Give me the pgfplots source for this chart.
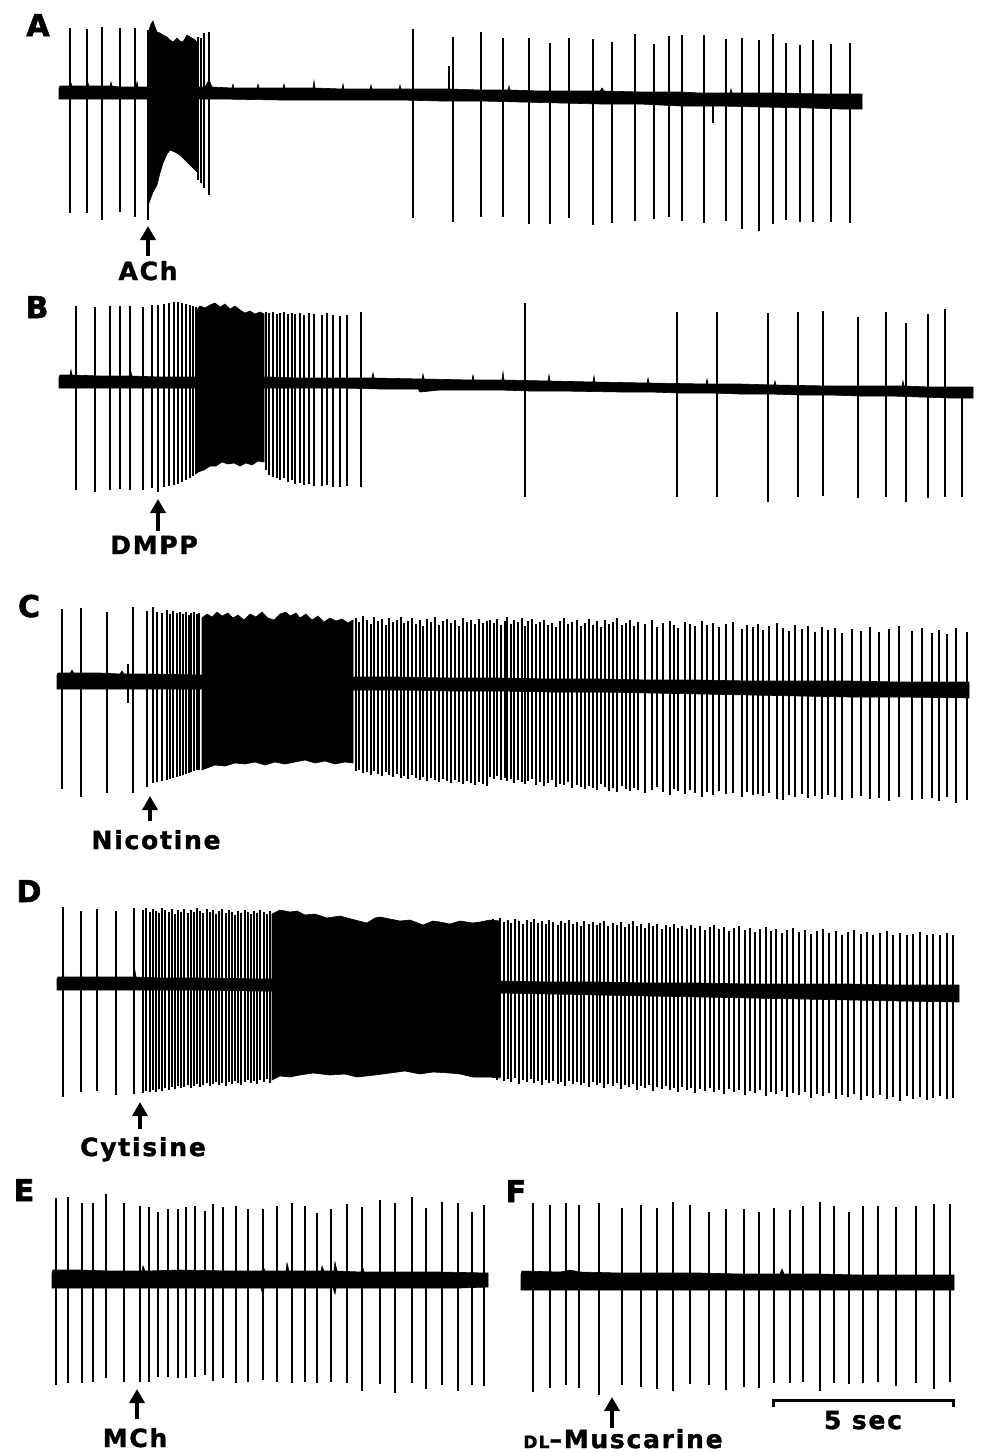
\documentclass[border=0pt]{standalone}
\usepackage{pgfplots}
\usepackage{pgfplotstable}
\pgfplotsset{compat=1.18}
\usepackage{fontspec}
\setmainfont{DejaVu Sans}
\newfontfamily\lab[LetterSpace=7, BoldFeatures={FakeBold=1.4}]{DejaVu Sans}
\newfontfamily\pan[BoldFeatures={FakeBold=2}]{DejaVu Sans}
\usetikzlibrary{arrows.meta}
\newcommand\panel{\pan\fontsize{30}{30}\selectfont\bfseries}
\newcommand\lbl{\lab\fontsize{25}{25}\selectfont\bfseries}
\tikzset{arr/.style={line width=4.5pt, -{Triangle[width=15pt,length=14pt]}}}

\pgfplotstableread{
x t b
70 28 213
87 29 213
102 27 220
120 28 212
135 28 217
148 30 220
198 37 180
201 38 183
204 33 188
209 32 195
413 29 218
449 66 95
453 37 222
481 32 217
503 38 217
529 38 224
550 43 224
569 38 218
593 39 225
612 42 223
635 34 221
654 44 219
669 36 217
682 35 221
704 35 223
713 100 123
726 39 221
742 38 229
759 40 231
773 34 224
786 43 220
800 45 222
813 40 222
831 44 222
850 43 223
}\spA

\pgfplotstableread{
x t b
76 306 490
95 307 492
110 306 490
120 306 489
130 306 490
143 307 490
152 305 488
158 305 492
164 304 487
169 303 486
174 302 485
178 302 484
182 303 482
186 304 480
190 305 478
193 306 476
196 307 474
266 312 470
269 313 475
273 312 477
277 314 478
280 313 480
284 312 478
288 314 482
292 313 480
295 314 484
300 313 483
304 315 485
309 313 484
314 314 486
322 315 486
327 313 485
333 315 487
340 316 487
347 315 486
361 312 487
525 303 497
677 312 497
717 312 497
768 313 502
798 312 497
823 311 496
858 317 498
886 312 497
906 323 502
928 314 498
945 309 497
962 395 497
}\spB

\pgfplotstableread{
x t b
62 609 789
81 608 797
107 612 793
128 664 703
133 607 793
147 611 787
153 607 783
157 612 782
162 613 781
167 610 780
170 614 779
173 611 778
177 613 777
180 612 776
183 614 775
186 612 774
189 615 773
191 613 772
194 612 771
197 614 770
199 613 770
356 618 771
359 622 770
363 616 773
367 620 772
371 624 775
374 617 771
378 621 774
382 619 776
386 625 772
389 618 775
393 622 777
397 620 774
401 617 778
404 623 776
408 621 779
412 618 775
416 624 778
420 620 780
423 626 777
427 619 781
431 622 778
435 617 780
439 625 782
443 621 779
447 619 781
451 623 783
455 620 780
459 626 782
463 618 784
467 622 781
471 620 783
475 624 785
479 619 782
483 623 784
487 621 786
490 620 777
494 623 779
497 619 776
501 625 780
505 621 778
507 617 781
511 624 779
514 620 783
518 622 780
522 618 782
525 626 784
528 621 781
532 619 779
536 624 785
540 622 782
544 620 786
548 625 783
552 623 780
556 627 787
560 621 784
564 618 785
568 624 782
572 622 788
577 620 785
581 626 787
585 623 789
589 619 786
593 625 788
597 621 790
601 627 784
605 620 787
609 624 791
613 622 788
617 618 792
622 625 786
626 623 789
630 620 791
634 626 788
638 622 790
645 624 793
652 620 790
657 627 787
663 623 792
670 621 795
674 625 789
678 628 791
685 622 794
690 624 790
695 626 793
702 621 797
707 625 792
713 623 795
719 627 791
726 624 794
733 622 793
742 629 797
747 625 792
753 627 795
758 624 794
763 630 796
769 626 793
777 623 799
783 628 800
789 631 795
795 625 797
802 629 794
808 626 798
815 632 796
822 627 799
828 630 795
835 628 797
842 633 800
852 629 798
861 631 796
870 627 799
879 632 798
889 629 801
899 626 797
912 631 800
922 628 799
932 633 798
939 630 801
947 634 797
956 628 803
967 632 800
}\spC

\pgfplotstableread{
x t b
63 907 1097
81 911 1092
97 909 1091
116 911 1095
134 908 1094
143 910 1093
146 908 1091
150 912 1092
153 909 1090
156 911 1092
159 913 1089
162 908 1091
165 910 1088
169 912 1090
172 909 1087
175 914 1089
178 910 1086
181 912 1088
184 909 1087
188 913 1085
191 910 1088
194 912 1086
197 908 1084
200 911 1087
203 913 1085
207 909 1083
210 912 1086
213 910 1084
216 914 1082
219 911 1085
222 909 1083
226 913 1086
229 910 1082
232 912 1084
235 915 1081
238 911 1083
241 913 1085
245 910 1082
248 912 1080
251 914 1083
254 911 1081
257 913 1084
260 910 1080
264 912 1082
267 914 1079
270 911 1083
493 919 1078
497 921 1080
500 918 1077
504 922 1081
508 920 1079
511 923 1082
515 919 1078
519 921 1084
523 924 1080
527 920 1082
531 922 1079
534 919 1083
538 923 1081
542 921 1085
546 924 1080
549 920 1083
553 922 1081
558 925 1084
561 921 1082
565 923 1086
569 920 1081
573 924 1084
577 922 1082
581 926 1085
584 921 1083
589 924 1087
593 922 1082
597 925 1085
600 923 1083
604 921 1088
608 926 1084
613 923 1086
617 925 1083
621 922 1089
625 927 1085
629 924 1087
633 921 1084
637 926 1090
641 924 1086
645 928 1088
649 923 1085
653 926 1091
657 924 1087
662 929 1089
666 925 1086
670 927 1090
674 924 1088
678 928 1092
682 926 1087
687 929 1090
691 925 1088
695 928 1093
700 926 1089
705 930 1091
710 927 1088
714 925 1092
719 929 1090
724 927 1094
729 931 1089
734 928 1092
739 926 1090
745 930 1095
750 928 1091
755 932 1093
760 929 1090
766 927 1096
771 931 1092
776 929 1094
782 933 1091
787 930 1097
793 928 1093
799 932 1095
805 930 1092
811 934 1098
817 931 1094
823 929 1096
829 933 1093
836 931 1099
842 935 1095
848 932 1097
854 930 1094
861 934 1100
867 932 1096
873 935 1098
880 933 1095
887 931 1099
893 935 1097
900 933 1101
907 935 1096
913 934 1099
920 932 1097
927 935 1100
933 934 1098
940 935 1096
947 933 1099
953 935 1098
}\spD

\pgfplotstableread{
x t b
56 1198 1385
68 1197 1383
82 1203 1383
93 1203 1382
106 1194 1378
124 1203 1382
140 1206 1382
149 1207 1382
158 1212 1377
168 1209 1377
178 1209 1378
186 1207 1378
195 1206 1377
205 1211 1375
213 1204 1381
223 1207 1378
236 1206 1383
248 1209 1382
263 1209 1380
277 1206 1382
292 1203 1383
305 1206 1382
317 1213 1383
331 1209 1382
347 1204 1383
362 1207 1391
380 1200 1384
395 1203 1393
412 1197 1383
426 1208 1389
442 1202 1385
458 1203 1391
472 1212 1385
484 1205 1386
}\spE

\pgfplotstableread{
x t b
533 1203 1392
550 1205 1388
566 1203 1385
579 1205 1388
599 1203 1395
622 1208 1385
641 1205 1387
657 1208 1389
673 1202 1391
690 1205 1384
709 1212 1385
726 1209 1390
744 1209 1387
759 1212 1388
774 1208 1383
790 1210 1383
803 1206 1382
820 1202 1391
834 1206 1383
849 1212 1384
863 1206 1383
878 1206 1382
896 1207 1386
916 1206 1383
934 1204 1389
950 1204 1382
}\spF

\begin{document}
\begin{tikzpicture}
\begin{axis}[
  width=981pt, height=1452pt, scale only axis,
  xmin=0, xmax=981, ymin=0, ymax=1452, y dir=reverse,
  hide axis, clip=false,
  spk/.style={black, line width=1.9pt, mark=none, quiver={u=0, v=\thisrow{b}-\thisrow{t}}},
  band/.style={fill=black, draw=black, line width=0.6pt, mark=none},
]
\path (axis cs:0,0) rectangle (axis cs:981,1452);
% ---------- A ----------
\addplot[band] coordinates {(59,88)(60,86)(70,86)(71,83)(72,86)(87,86)(88,83)(89,86)(102,86)(110,86)(111,82)(112,86)(120,87)(136,87)(137,82)(138,87)(148,87)(205,87)(209,80)(212,87)(232,88)(233,84)(234,88)(257,88)(258,84)(259,88)(283,88)(284,84)(285,88)(313,88)(314,81)(315,88)(342,89)(343,84)(344,89)(370,89)(371,85)(372,89)(399,89)(400,85)(401,89)(420,89)(450,89)(480,90)(508,90)(509,86)(510,90)(540,91)(560,91)(600,91)(602,88)(604,91)(640,92)(680,92)(700,93)(730,93)(731,89)(732,93)(780,93)(820,94)(862,94)
(862,109)(840,109)(810,108)(760,107)(720,106)(680,106)(640,104)(600,104)(560,103)(520,102)(480,101)(440,101)(400,100)(340,100)(280,100)(220,99)(160,99)(100,99)(59,99)} -- cycle;
\addplot[band] coordinates {(149,30)(151,24)(153,21)(155,27)(157,32)(160,33)(163,35)(167,37)(170,40)(173,42)(177,38)(180,41)(183,42)(187,35)(190,37)(192,38)(195,40)(197,42)
(197,172)(193,168)(187,162)(180,155)(175,152)(170,150)(167,154)(163,163)(160,173)(157,185)(153,192)(150,200)(149,203)} -- cycle;
\addplot[spk] table[x=x, y=t] {\spA};
% ---------- B ----------
\addplot[band] coordinates {(59,377)(60,375)(70,375)(71,370)(72,375)(100,376)(130,376)(131,372)(132,376)(160,377)(270,377)(300,378)(330,378)(372,378)(373,373)(374,378)(422,379)(423,374)(424,379)(472,380)(473,375)(474,380)(502,380)(503,372)(504,380)(548,381)(549,375)(550,381)(593,382)(594,376)(595,382)(647,383)(648,378)(649,383)(706,384)(707,379)(708,384)(740,384)(774,385)(775,381)(776,385)(830,386)(870,386)(902,386)(903,381)(904,386)(930,387)(973,387)
(973,398)(950,398)(920,397)(890,396)(860,396)(830,395)(800,395)(770,394)(740,394)(710,393)(680,393)(650,392)(620,392)(560,391)(530,391)(500,390)(470,390)(440,390)(420,392)(418,389)(380,389)(340,388)(300,388)(220,388)(140,388)(59,388)} -- cycle;
\addplot[band] coordinates {(196,311)(200,306)(205,308)(210,305)(215,303)(220,307)(225,304)(230,309)(235,306)(240,310)(245,313)(250,311)(255,314)(260,312)(264,314)
(264,462)(258,461)(252,465)(246,463)(240,466)(234,463)(228,464)(222,462)(216,466)(210,466)(204,470)(198,472)(196,474)} -- cycle;
\addplot[spk] table[x=x, y=t] {\spB};
% ---------- C ----------
\addplot[band] coordinates {(57,675)(58,673)(70,673)(72,670)(74,673)(100,673)(120,674)(122,671)(124,674)(150,674)(200,675)(250,675)(300,676)(350,677)(400,677)(450,678)(500,678)(550,679)(600,679)(650,680)(700,680)(750,681)(800,681)(850,681)(900,682)(969,682)
(969,698)(900,697)(850,697)(800,696)(750,695)(700,694)(650,693)(600,692)(550,692)(500,691)(450,691)(400,690)(350,690)(300,690)(250,689)(200,689)(150,689)(100,689)(57,689)} -- cycle;
\addplot[band] coordinates {(202,618)(207,614)(212,617)(217,612)(222,616)(228,613)(233,618)(238,615)(244,620)(250,614)(256,617)(262,612)(268,618)(274,620)(280,614)(286,612)(290,616)(296,613)(300,618)(306,614)(312,620)(318,616)(324,622)(330,618)(336,621)(342,619)(348,623)(353,620)
(353,763)(345,762)(335,764)(325,761)(315,763)(305,760)(295,762)(285,764)(275,762)(265,765)(255,762)(245,764)(235,763)(225,766)(215,765)(207,768)(202,770)} -- cycle;
\addplot[spk] table[x=x, y=t] {\spC};
% ---------- D ----------
\addplot[band] coordinates {(57,979)(58,977)(62,977)(63,970)(64,977)(80,977)(81,972)(82,977)(96,977)(97,972)(98,977)(115,977)(134,977)(135,971)(136,977)(160,978)(200,978)(270,979)(300,979)(350,980)(400,980)(450,981)(500,981)(550,982)(600,982)(650,983)(700,983)(750,984)(800,984)(850,984)(900,985)(959,985)
(959,1002)(900,1001)(850,1000)(800,999)(750,998)(700,997)(650,996)(600,995)(550,994)(500,993)(450,993)(400,992)(350,992)(300,991)(250,991)(200,990)(150,990)(100,990)(57,990)} -- cycle;
\addplot[band] coordinates {(272,914)(280,910)(290,912)(297,911)(305,915)(315,914)(327,918)(340,916)(355,920)(367,923)(375,918)(380,917)(390,919)(400,921)(410,920)(423,925)(433,921)(440,922)(450,924)(460,921)(473,923)(480,922)(490,920)(500,921)
(500,1078)(490,1077)(473,1077)(460,1074)(450,1073)(433,1072)(420,1074)(405,1071)(390,1073)(375,1075)(357,1077)(345,1074)(330,1075)(313,1073)(300,1075)(290,1077)(280,1076)(272,1080)} -- cycle;
\addplot[spk] table[x=x, y=t] {\spD};
% ---------- E ----------
\addplot[band] coordinates {(52,1273)(53,1270)(80,1270)(110,1271)(142,1271)(143,1266)(145,1271)(180,1270)(230,1271)(262,1271)(263,1266)(265,1271)(286,1271)(287,1263)(289,1271)(321,1271)(322,1266)(324,1271)(334,1271)(335,1262)(337,1271)(361,1272)(362,1264)(364,1272)(400,1272)(440,1272)(488,1273)
(488,1287)(460,1288)(420,1288)(380,1288)(336,1288)(335,1294)(333,1288)(264,1288)(263,1295)(261,1288)(200,1288)(150,1288)(100,1288)(52,1288)} -- cycle;
\addplot[spk] table[x=x, y=t] {\spE};
% ---------- F ----------
\addplot[band] coordinates {(521,1274)(522,1271)(560,1272)(570,1270)(580,1272)(620,1273)(660,1273)(700,1273)(740,1274)(780,1274)(782,1269)(784,1274)(820,1274)(860,1275)(900,1275)(954,1275)
(954,1290)(900,1290)(850,1290)(800,1290)(750,1290)(700,1290)(650,1290)(600,1290)(560,1290)(521,1290)} -- cycle;
\addplot[spk] table[x=x, y=t] {\spF};

% ---------- annotations ----------
\node[font=\panel, anchor=base, inner sep=0pt] at (axis cs:38,36) {A};
\node[font=\panel, anchor=base, inner sep=0pt] at (axis cs:37,318) {B};
\node[font=\panel, anchor=base, inner sep=0pt] at (axis cs:29,617) {C};
\node[font=\panel, anchor=base, inner sep=0pt] at (axis cs:29,902) {D};
\node[font=\panel, anchor=base, inner sep=0pt] at (axis cs:24,1201) {E};
\node[font=\panel, anchor=base, inner sep=0pt] at (axis cs:516,1202) {F};

\draw[arr] (axis cs:148,256) -- (axis cs:148,226);
\node[font=\lbl, anchor=base, inner sep=0pt] at (axis cs:148,280) {ACh};
\draw[arr] (axis cs:158,531) -- (axis cs:158,499);
\node[font=\lbl, anchor=base, inner sep=0pt] at (axis cs:154,554) {DMPP};
\draw[arr] (axis cs:150,821) -- (axis cs:150,796);
\node[font=\lbl, anchor=base, inner sep=0pt] at (axis cs:156,849) {Nicotine};
\draw[arr] (axis cs:140,1129) -- (axis cs:140,1102);
\node[font=\lbl, anchor=base, inner sep=0pt] at (axis cs:143,1156) {Cytisine};
\draw[arr] (axis cs:137,1419) -- (axis cs:137,1389);
\node[font=\lbl, anchor=base, inner sep=0pt] at (axis cs:135,1447) {MCh};
\draw[arr] (axis cs:612,1428) -- (axis cs:612,1397);
\node[font=\lbl, anchor=base, inner sep=0pt] at (axis cs:623,1448) {{\fontsize{17}{17}\selectfont DL}–Muscarine};
\draw[line width=3pt] (axis cs:773,1407) -- (axis cs:773,1400) -- (axis cs:953,1400) -- (axis cs:953,1407);
\node[font=\lbl, anchor=base, inner sep=0pt] at (axis cs:863,1429) {5 sec};
\end{axis}
\end{tikzpicture}
\end{document}
